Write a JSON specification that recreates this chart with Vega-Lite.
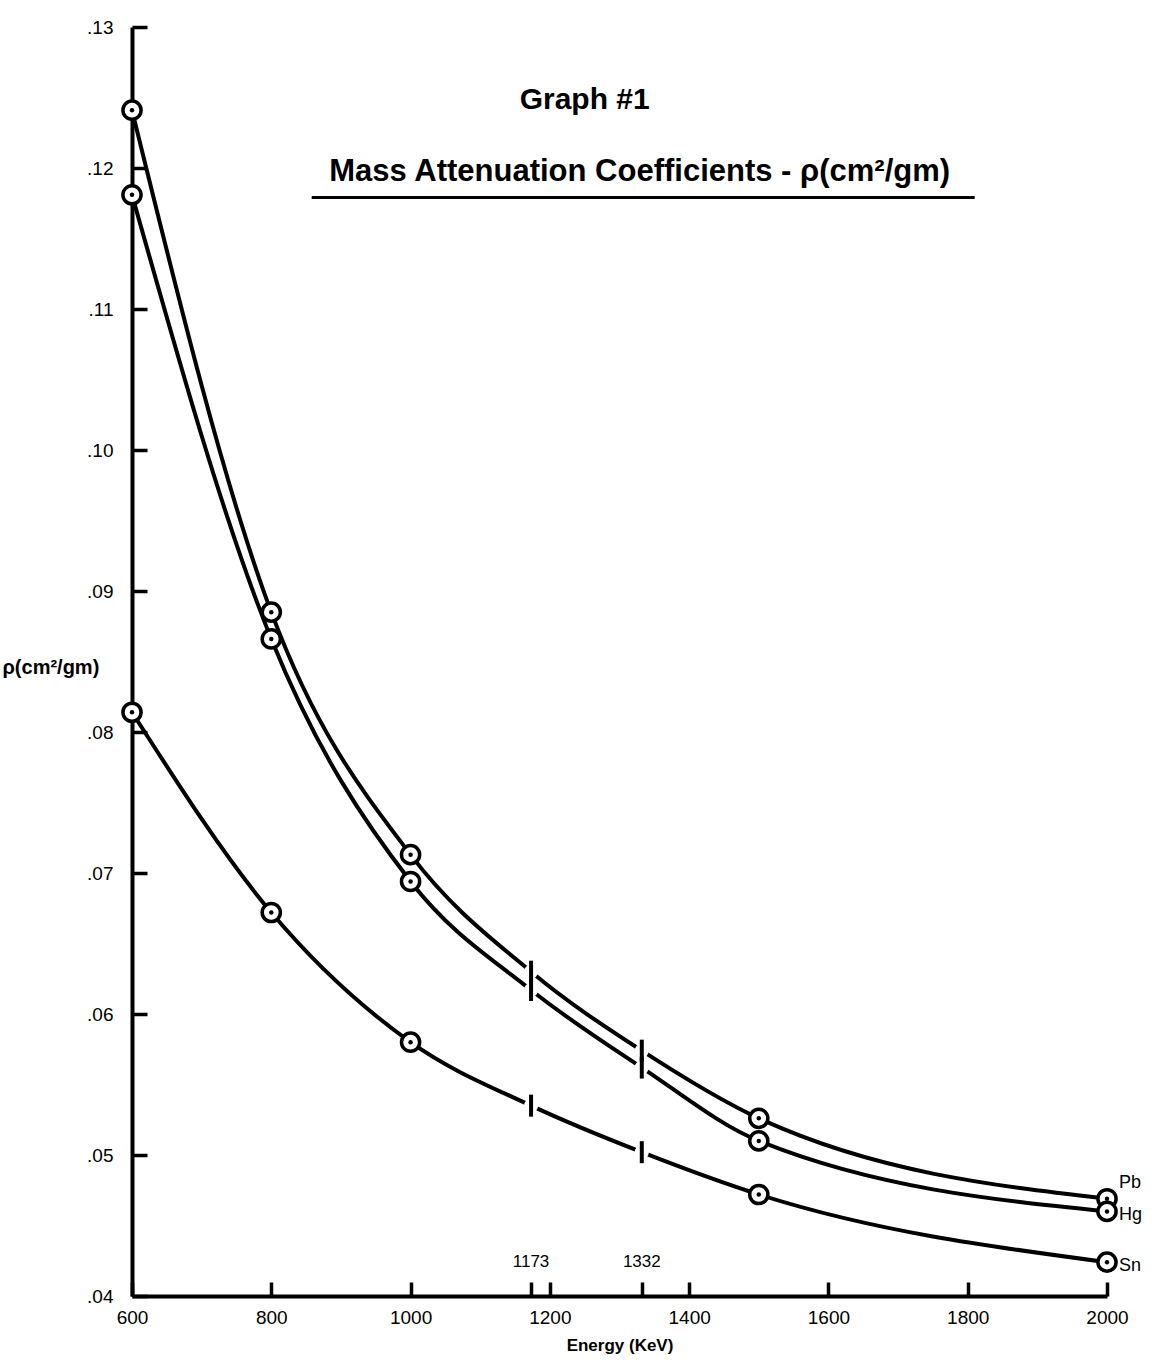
{
  "$schema": "https://vega.github.io/schema/vega-lite/v6.json",
  "width": 975,
  "height": 1269,
  "autosize": {"type": "none"},
  "padding": {"left": 132, "top": 27, "right": 48, "bottom": 70},
  "background": "white",
  "config": {
    "view": {"stroke": null},
    "font": "Liberation Sans",
    "axis": {
      "grid": false,
      "domainColor": "black",
      "domainWidth": 4,
      "tickColor": "black",
      "tickWidth": 3.5,
      "labelColor": "black",
      "titleColor": "black",
      "labelFont": "Liberation Sans",
      "titleFont": "Liberation Sans"
    }
  },
  "datasets": {
    "curves": [
      {"element": "Pb", "energy": 600, "mu": 0.1241, "kind": "circle"},
      {"element": "Pb", "energy": 800, "mu": 0.0885, "kind": "circle"},
      {"element": "Pb", "energy": 1000, "mu": 0.0713, "kind": "circle"},
      {"element": "Pb", "energy": 1173, "mu": 0.0630, "kind": "cross"},
      {"element": "Pb", "energy": 1332, "mu": 0.0574, "kind": "cross"},
      {"element": "Pb", "energy": 1500, "mu": 0.0526, "kind": "circle"},
      {"element": "Pb", "energy": 2000, "mu": 0.0469, "kind": "circle"},
      {"element": "Hg", "energy": 600, "mu": 0.1181, "kind": "circle"},
      {"element": "Hg", "energy": 800, "mu": 0.0866, "kind": "circle"},
      {"element": "Hg", "energy": 1000, "mu": 0.0694, "kind": "circle"},
      {"element": "Hg", "energy": 1173, "mu": 0.0617, "kind": "cross"},
      {"element": "Hg", "energy": 1332, "mu": 0.0562, "kind": "cross"},
      {"element": "Hg", "energy": 1500, "mu": 0.0510, "kind": "circle"},
      {"element": "Hg", "energy": 2000, "mu": 0.0460, "kind": "circle"},
      {"element": "Sn", "energy": 600, "mu": 0.0814, "kind": "circle"},
      {"element": "Sn", "energy": 800, "mu": 0.0672, "kind": "circle"},
      {"element": "Sn", "energy": 1000, "mu": 0.0580, "kind": "circle"},
      {"element": "Sn", "energy": 1173, "mu": 0.0535, "kind": "cross"},
      {"element": "Sn", "energy": 1332, "mu": 0.0502, "kind": "cross"},
      {"element": "Sn", "energy": 1500, "mu": 0.0472, "kind": "circle"},
      {"element": "Sn", "energy": 2000, "mu": 0.0424, "kind": "circle"}
    ],
    "notes": [
      {"role": "heading", "energy": 1250, "mu": 0.1248, "label": "Graph #1"},
      {"role": "subheading", "energy": 1329, "mu": 0.1197, "label": "Mass Attenuation Coefficients - ρ(cm²/gm)"},
      {"role": "marker", "energy": 1173, "mu": 0.0424, "label": "1173"},
      {"role": "marker", "energy": 1332, "mu": 0.0424, "label": "1332"}
    ],
    "underline": [
      {"energy": 858, "energy2": 1810, "mu": 0.1179}
    ]
  },
  "encoding": {
    "x": {
      "field": "energy",
      "type": "quantitative",
      "scale": {"domain": [600, 2000], "nice": false, "zero": false},
      "axis": {
        "values": [600, 800, 1000, 1173, 1200, 1332, 1400, 1600, 1800, 2000],
        "labelExpr": "datum.value == 1173 || datum.value == 1332 ? '' : datum.label",
        "format": "d",
        "tickSize": -14,
        "labelPadding": 26,
        "labelFontSize": 19,
        "labelFlush": false,
        "title": "Energy (KeV)",
        "titleFontSize": 17,
        "titleFontWeight": "bold",
        "titlePadding": 10
      }
    },
    "y": {
      "field": "mu",
      "type": "quantitative",
      "scale": {"domain": [0.04, 0.13], "nice": false, "zero": false},
      "axis": {
        "values": [0.04, 0.05, 0.06, 0.07, 0.08, 0.09, 0.10, 0.11, 0.12, 0.13],
        "labelExpr": "slice(format(datum.value, '.2f'), 1)",
        "tickSize": -15,
        "labelPadding": 34,
        "labelFontSize": 19,
        "labelFlush": false,
        "title": "ρ(cm²/gm)",
        "titleAngle": 0,
        "titleX": -130,
        "titleY": 640,
        "titleAlign": "left",
        "titleBaseline": "middle",
        "titleFontSize": 20,
        "titleFontWeight": "bold"
      }
    }
  },
  "layer": [
    {
      "data": {"name": "curves"},
      "mark": {"type": "line", "color": "black", "strokeWidth": 4, "interpolate": "monotone"},
      "encoding": {"detail": {"field": "element"}, "order": {"field": "energy"}}
    },
    {
      "data": {"name": "curves"},
      "transform": [{"filter": "datum.kind == 'cross'"}],
      "mark": {"type": "point", "shape": "circle", "filled": true, "color": "white", "opacity": 1, "size": 200}
    },
    {
      "data": {"name": "curves"},
      "transform": [{"filter": "datum.kind == 'cross'"}],
      "mark": {"type": "point", "shape": "M0,-1L0,1", "filled": false, "stroke": "black", "strokeWidth": 4, "opacity": 1, "size": 484}
    },
    {
      "data": {"name": "curves"},
      "transform": [{"filter": "datum.kind == 'circle'"}],
      "mark": {"type": "point", "shape": "circle", "filled": true, "fill": "white", "stroke": "black", "strokeWidth": 3.5, "opacity": 1, "size": 330}
    },
    {
      "data": {"name": "curves"},
      "transform": [{"filter": "datum.kind == 'circle'"}],
      "mark": {"type": "circle", "color": "black", "opacity": 1, "size": 20}
    },
    {
      "data": {"name": "curves"},
      "transform": [{"filter": "datum.energy == 2000 && datum.element == 'Pb'"}],
      "mark": {"type": "text", "align": "left", "baseline": "middle", "dx": 12, "dy": -16, "fontSize": 18, "color": "black"},
      "encoding": {"text": {"field": "element"}}
    },
    {
      "data": {"name": "curves"},
      "transform": [{"filter": "datum.energy == 2000 && datum.element != 'Pb'"}],
      "mark": {"type": "text", "align": "left", "baseline": "middle", "dx": 12, "dy": 4, "fontSize": 18, "color": "black"},
      "encoding": {"text": {"field": "element"}}
    },
    {
      "data": {"name": "notes"},
      "transform": [{"filter": "datum.role == 'heading'"}],
      "mark": {"type": "text", "align": "center", "baseline": "middle", "fontSize": 30, "fontWeight": "bold", "color": "black"},
      "encoding": {"text": {"field": "label"}}
    },
    {
      "data": {"name": "notes"},
      "transform": [{"filter": "datum.role == 'subheading'"}],
      "mark": {"type": "text", "align": "center", "baseline": "middle", "fontSize": 31, "fontWeight": "bold", "color": "black"},
      "encoding": {"text": {"field": "label"}}
    },
    {
      "data": {"name": "notes"},
      "transform": [{"filter": "datum.role == 'marker'"}],
      "mark": {"type": "text", "align": "center", "baseline": "middle", "fontSize": 17, "color": "black"},
      "encoding": {"text": {"field": "label"}}
    },
    {
      "data": {"name": "underline"},
      "mark": {"type": "rule", "color": "black", "strokeWidth": 3},
      "encoding": {"x2": {"field": "energy2"}}
    }
  ]
}
